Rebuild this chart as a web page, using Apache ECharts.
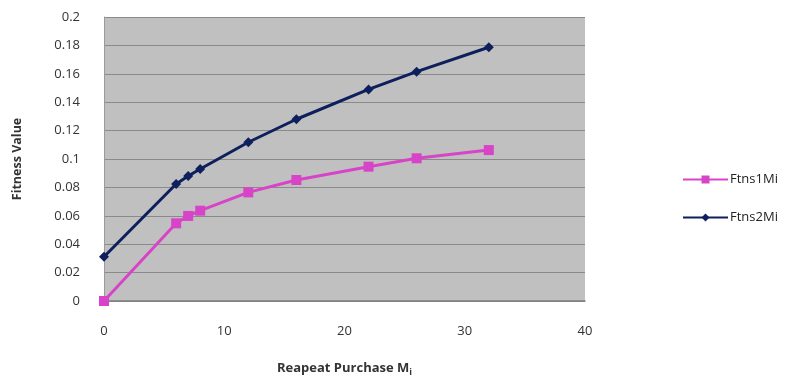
<!DOCTYPE html>
<html>
<head>
<meta charset="utf-8">
<script src="https://cdn.jsdelivr.net/npm/echarts@6/dist/echarts.min.js"></script>
<style>
  html, body { margin: 0; padding: 0; background: #fff; }
  #chart { width: 799px; height: 376px; }
</style>
</head>
<body>
<div id="chart"></div>
<script>
// Repeat purchase counts (x) and fitness values for each series
const purchases = [0, 6, 7, 8, 12, 16, 22, 26, 32];
const ftns1Mi = [0.000, 0.0547, 0.0599, 0.0636, 0.0765, 0.0852, 0.0946, 0.1005, 0.1063];
const ftns2Mi = [0.0312, 0.0824, 0.0880, 0.0930, 0.1118, 0.1280, 0.1490, 0.1615, 0.1787];
const seriesNames = ['Ftns1Mi', 'Ftns2Mi'];

const font = '"Open Sans", "DejaVu Sans", sans-serif';
const pair = (xs, ys) => xs.map((x, i) => [x, ys[i]]);

const chart = echarts.init(document.getElementById('chart'), null, { renderer: 'canvas' });
chart.setOption({
  animation: false,
  textStyle: { fontFamily: font },
  grid: {
    left: 104, top: 17, right: 214, bottom: 75,
    containLabel: false,
    outerBoundsMode: 'none',
    show: true, backgroundColor: '#c0c0c0', borderWidth: 0
  },
  legend: {
    orient: 'vertical',
    left: 682, top: 173,
    padding: 0,
    itemWidth: 45, itemHeight: 10,
    itemGap: 25,
    textStyle: { fontFamily: font, fontSize: 13, color: '#222', padding: [0, 0, 0, -3] },
    data: seriesNames
  },
  xAxis: {
    type: 'value', min: 0, max: 40, interval: 10,
    name: '{b|Reapeat Purchase M}{s|i}',
    nameLocation: 'middle', nameGap: 59,
    nameTextStyle: {
      rich: {
        b: { fontFamily: font, fontSize: 13, fontWeight: 'bold', color: '#333' },
        s: { fontFamily: font, fontSize: 9, fontWeight: 'bold', color: '#333', verticalAlign: 'bottom', padding: [8, 0, 0, 0] }
      }
    },
    axisLine: { show: true, lineStyle: { color: '#7f7f7f', width: 1.5 } },
    axisTick: { show: false },
    splitLine: { show: false },
    axisLabel: { fontFamily: font, fontSize: 13, color: '#333', margin: 24 }
  },
  yAxis: {
    type: 'value', min: 0, max: 0.2, interval: 0.02,
    name: 'Fitness Value',
    nameLocation: 'middle', nameGap: 80, nameRotate: 90,
    nameTextStyle: { fontFamily: font, fontSize: 12.5, fontWeight: 'bold', color: '#333' },
    axisLine: { show: true, lineStyle: { color: '#9a9a9a', width: 1 } },
    axisTick: { show: false },
    splitLine: { show: true, lineStyle: { color: '#8a8a8a', width: 1 } },
    axisLabel: {
      fontFamily: font, fontSize: 13, color: '#333', margin: 24,
      formatter: v => String(Math.round(v * 100) / 100)
    }
  },
  series: [
    {
      name: seriesNames[0], type: 'line',
      data: pair(purchases, ftns1Mi),
      symbol: 'rect', symbolSize: 10,
      lineStyle: { color: '#d844c8', width: 3 },
      itemStyle: { color: '#d844c8' }
    },
    {
      name: seriesNames[1], type: 'line',
      data: pair(purchases, ftns2Mi),
      symbol: 'diamond', symbolSize: 10,
      lineStyle: { color: '#0d1f5c', width: 3 },
      itemStyle: { color: '#0d1f5c' }
    }
  ]
});
</script>
</body>
</html>
